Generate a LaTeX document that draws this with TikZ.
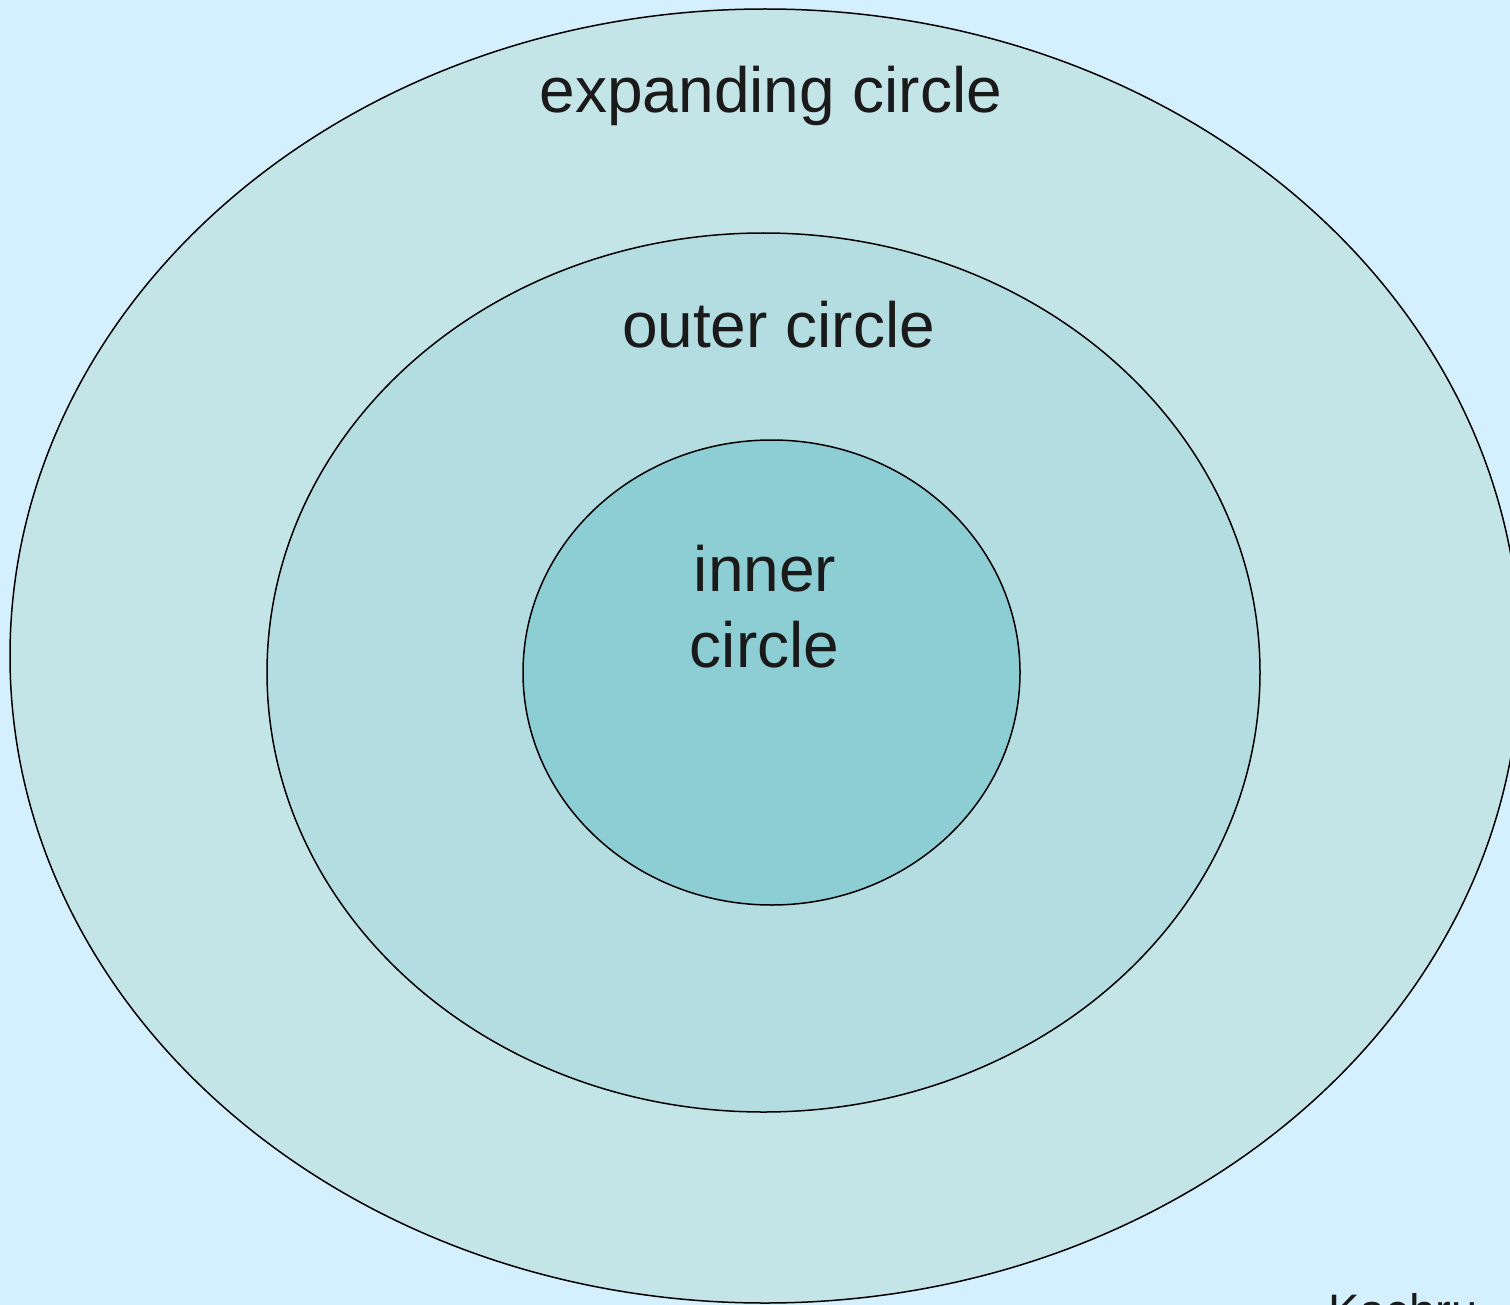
\documentclass[tikz,border=0pt]{standalone}
\usepackage{fontspec}
\setmainfont{Liberation Sans}
\usetikzlibrary{shapes.geometric}
\definecolor{bgblue}{RGB}{212,240,254}
\definecolor{ringA}{RGB}{196,229,232}
\definecolor{ringB}{RGB}{180,221,225}
\definecolor{ringC}{RGB}{141,205,212}
\definecolor{ink}{RGB}{26,26,26}
\tikzset{
  ring/.style={ellipse, draw=black, line width=0.75pt, inner sep=0pt},
  lbl/.style={anchor=base, text=ink, font=\fontsize{32}{38}\selectfont, inner sep=0pt}
}
\begin{document}
\begin{tikzpicture}[x=0.5pt,y=-0.5pt]
\useasboundingbox (0,0) rectangle (1510,1305);
\clip (0,0) rectangle (1510,1305);
\fill[bgblue] (0,0) rectangle (1510,1305);
\node[ring, fill=ringA, minimum width=755pt, minimum height=647pt] (expanding) at (765,656) {};
\node[ring, fill=ringB, minimum width=496.5pt, minimum height=439.5pt] (outer) at (763.5,672.5) {};
\node[ring, fill=ringC, minimum width=248.5pt, minimum height=232.5pt] (inner) at (771.5,672.5) {};
\node[lbl] (lexp) at (771,113) {expanding circle};
\node[lbl] (lout) at (778.5,347) {outer circle};
\node[lbl] (lin1) at (765,591) {inner};
\node[lbl] (lin2) at (764.5,667) {circle};
\node[lbl, anchor=base west, font=\fontsize{23.5}{28}\selectfont] (kachru) at (1328,1327) {Kachru};
\end{tikzpicture}
\end{document}
